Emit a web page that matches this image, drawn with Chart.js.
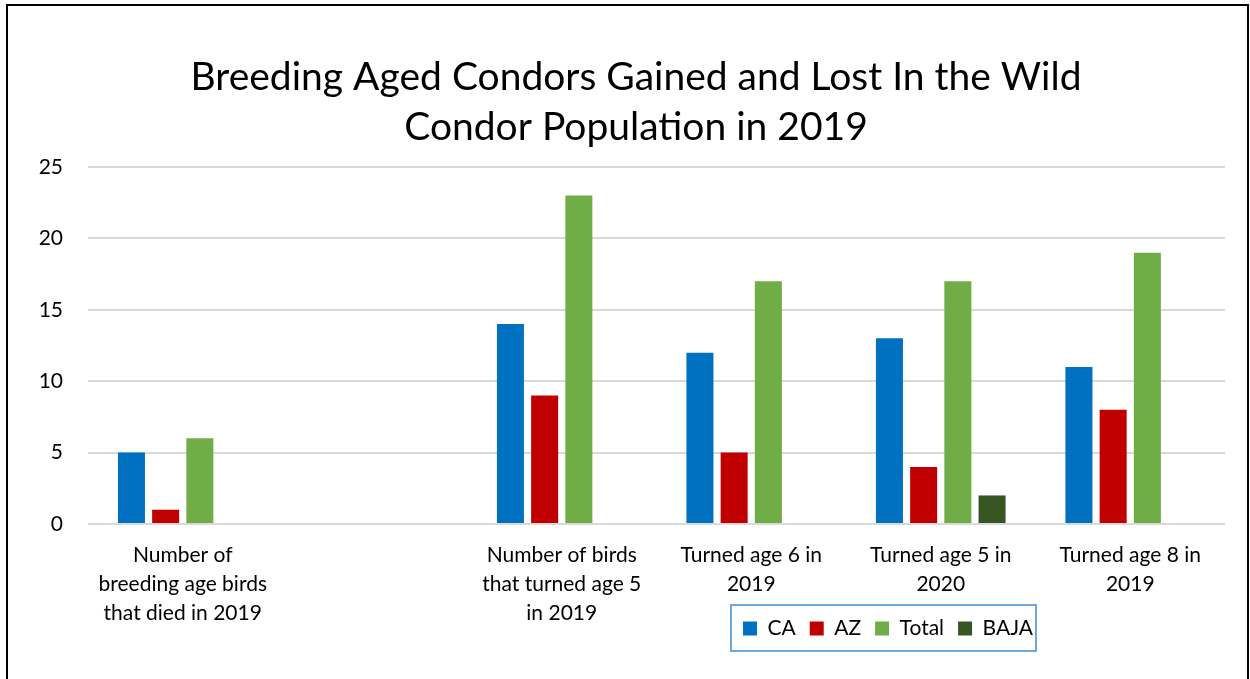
<!DOCTYPE html>
<html>
<head>
<meta charset="utf-8">
<script src="https://cdn.jsdelivr.net/npm/chart.js@4"></script>
<style>
  body { margin: 0; background: #fff; }
  #wrap { position: absolute; left: 0; top: 0; width: 1250px; height: 679px; }
  #frame { position: absolute; left: 6px; top: 4px; width: 1239px; height: 700px; border: 2px solid #000; pointer-events: none; }
</style>
</head>
<body>
<div id="wrap"><canvas id="chart" width="1250" height="679"></canvas></div>
<div id="frame"></div>
<script>
// categories (second one is an empty spacer column, as in the original sheet)
const categories = [
    ["Number of", "breeding age birds", "that died in 2019"],
    "",
    ["Number of birds", "that turned age 5", "in 2019"],
    ["Turned age 6 in", "2019"],
    ["Turned age 5 in", "2020"],
    ["Turned age 8 in", "2019"]
];

const caValues    = [5, null, 14, 12, 13, 11];
const azValues    = [1, null, 9, 5, 4, 8];
const totalValues = [6, null, 23, 17, 17, 19];
const bajaValues  = [null, null, null, null, 2, null];

const titleLines = ["Breeding Aged Condors Gained and Lost In the Wild", "Condor Population in 2019"];

const FONT = "Lato, 'Liberation Sans', sans-serif";

// title sits a little right of centre, legend sits under the right half in a blue box
const layoutTweaks = {
    id: "layoutTweaks",
    afterLayout(chart) {
        const tb = chart.titleBlock;
        tb.left += 8.5;
        tb.right += 8.5;

        const lg = chart.legend;
        const lw = lg.lineWidths[0];
        const cx = 888;
        const w = lw + 40;
        lg.left = cx - w / 2;
        lg.right = cx + w / 2;
        lg.width = w;
        lg.top = 604;
        lg.bottom = 655;
        lg.height = 51;
    },
    afterDraw(chart) {
        const ctx = chart.ctx;
        ctx.save();
        ctx.strokeStyle = "#6fa8dc";
        ctx.lineWidth = 2;
        ctx.strokeRect(731, 605, 305, 46);
        ctx.restore();
    }
};

new Chart(document.getElementById("chart"), {
    type: "bar",
    data: {
        labels: categories,
        datasets: [
            { label: "CA", data: caValues, backgroundColor: "#0070C0" },
            { label: "AZ", data: azValues, backgroundColor: "#C00000" },
            { label: "Total", data: totalValues, backgroundColor: "#70AD47" },
            { label: "BAJA", data: bajaValues, backgroundColor: "#375623" }
        ]
    },
    options: {
        responsive: false,
        animation: false,
        categoryPercentage: 0.722,
        barPercentage: 0.79,
        layout: { padding: { left: 30, right: 25, top: 0, bottom: 14 } },
        plugins: {
            title: {
                display: true,
                text: titleLines,
                color: "#000",
                font: { family: FONT, size: 39, weight: "normal", lineHeight: 50 / 39 },
                padding: { top: 52, bottom: 15 }
            },
            legend: {
                position: "bottom",
                maxHeight: 20,
                labels: {
                    color: "#000",
                    font: { family: FONT, size: 21 },
                    boxWidth: 14,
                    boxHeight: 14,
                    padding: 14
                }
            },
            tooltip: { enabled: false }
        },
        scales: {
            x: {
                grid: { display: false, drawTicks: false },
                border: { display: false },
                ticks: {
                    color: "#000",
                    font: { family: FONT, size: 21, lineHeight: 29 / 21 },
                    padding: 17,
                    maxRotation: 0,
                    autoSkip: false
                }
            },
            y: {
                min: 0,
                max: 25,
                afterFit(scale) { scale.width = 58; },
                grid: { color: "#d9d9d9", lineWidth: 2, drawTicks: false },
                border: { display: false },
                ticks: {
                    stepSize: 5,
                    color: "#000",
                    font: { family: FONT, size: 21 },
                    padding: 25
                }
            }
        }
    },
    plugins: [layoutTweaks]
});
</script>
</body>
</html>
